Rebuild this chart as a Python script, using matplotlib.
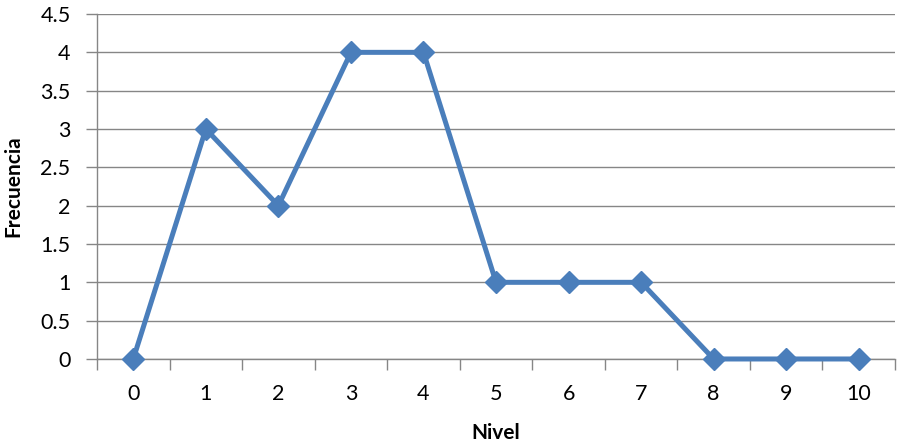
import matplotlib
matplotlib.use("Agg")
import matplotlib.pyplot as plt
import numpy as np

# Frecuencia por nivel
niveles = [0, 1, 2, 3, 4, 5, 6, 7, 8, 9, 10]
frecuencia = [0, 3, 2, 4, 4, 1, 1, 1, 0, 0, 0]
y_ticks = [0, 0.5, 1, 1.5, 2, 2.5, 3, 3.5, 4, 4.5]
y_labels = ["0", "0.5", "1", "1.5", "2", "2.5", "3", "3.5", "4", "4.5"]

plt.rcParams["font.family"] = ["Lato", "DejaVu Sans"]

GRIS = "#868686"
AZUL = "#4A7EBB"

fig = plt.figure(figsize=(8.99, 4.45), dpi=100)
ax = fig.add_axes([0.1079, 0.1933, 0.8877, 0.7752])

pos = np.arange(len(niveles))
ax.plot(pos, frecuencia, color=AZUL, linewidth=3.6, marker="D",
        markersize=11, markerfacecolor=AZUL, markeredgecolor=AZUL,
        clip_on=False, zorder=5)

ax.set_xlim(-0.5, len(niveles) - 0.5)
ax.set_ylim(0, 4.5)

# eje de categorías: etiquetas al centro, marcas entre categorías
ax.set_xticks(pos)
ax.set_xticklabels([str(n) for n in niveles], fontsize=15.5)
ax.tick_params(axis="x", which="major", length=0, pad=18)
ax.set_xticks(np.arange(-0.5, len(niveles), 1.0), minor=True)
ax.tick_params(axis="x", which="minor", length=8, width=1, color=GRIS,
               direction="out")

ax.set_yticks(y_ticks)
ax.set_yticklabels(y_labels, fontsize=15.5)
ax.tick_params(axis="y", length=8, width=1, color=GRIS, pad=11)

ax.grid(axis="y", color=GRIS, linewidth=1)
ax.set_axisbelow(True)

for lado in ["top", "right"]:
    ax.spines[lado].set_visible(False)
for lado in ["left", "bottom"]:
    ax.spines[lado].set_color(GRIS)
    ax.spines[lado].set_linewidth(1)

ax.set_xlabel("Nivel", fontsize=15, fontweight="bold", labelpad=14)
ax.set_ylabel("Frecuencia", fontsize=15, fontweight="bold", labelpad=12)

fig.savefig("out.png", dpi=100)
